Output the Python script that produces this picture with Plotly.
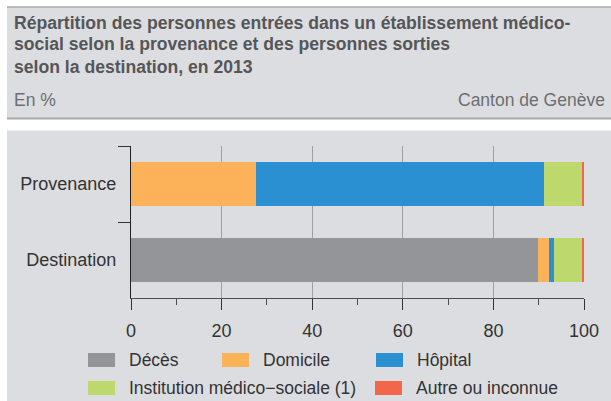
import plotly.graph_objects as go

# ---------------- data ----------------
categories = ["Provenance", "Destination"]
series_names = ["Décès", "Domicile", "Hôpital", "Institution médico−sociale (1)", "Autre ou inconnue"]
deces = [0.0, 89.8]
domicile = [27.6, 2.4]
hopital = [63.6, 1.1]
institution = [8.3, 6.4]
autre = [0.5, 0.3]
x_tick_vals = [0, 20, 40, 60, 80, 100]
x_tick_text = ["0", "20", "40", "60", "80", "100"]

title_lines = [
    "Répartition des personnes entrées dans un établissement médico-",
    "social selon la provenance et des personnes sorties",
    "selon la destination, en 2013",
]
unit_text = "En %"
region_text = "Canton de Genève"

# ---------------- style ----------------
colors = ["#939598", "#fbb259", "#2a90d2", "#bdd86c", "#f26649"]
W, H = 611, 401
L, R, T, B = 131, 584, 146, 298  # plot area in pixels
FONT = "Liberation Sans, Arial, sans-serif"
BG = "#dcdde0"


def px(x):
    return (x - L) / (R - L)


def py(y):
    return (B - y) / (B - T)


fig = go.Figure()
for name, vals, col in zip(series_names, [deces, domicile, hopital, institution, autre], colors):
    fig.add_trace(go.Bar(
        y=categories, x=vals, name=name, orientation="h",
        marker=dict(color=col, line=dict(width=0)),
        showlegend=False, hoverinfo="x+name",
    ))

shapes = [
    # header box
    dict(type="rect", xref="paper", yref="paper", x0=px(7), x1=px(611), y0=py(118), y1=py(7),
         fillcolor=BG, line=dict(width=0), layer="below"),
    dict(type="line", xref="paper", yref="paper", x0=px(7), x1=px(611), y0=py(7), y1=py(7),
         line=dict(color="#a8a9ab", width=1.5), layer="below"),
    dict(type="line", xref="paper", yref="paper", x0=px(7), x1=px(611), y0=py(118.5), y1=py(118.5),
         line=dict(color="#a8a9ab", width=2), layer="below"),
    # chart box
    dict(type="rect", xref="paper", yref="paper", x0=px(7), x1=px(611), y0=py(401), y1=py(130.5),
         fillcolor=BG, line=dict(width=0), layer="below"),
]

annotations = []
for i, line in enumerate(title_lines):
    annotations.append(dict(
        text="<b>" + line + "</b>", xref="paper", yref="paper", x=px(12), y=py(22.5 + 22 * i),
        xanchor="left", yanchor="middle", showarrow=False,
        font=dict(family=FONT, size=17.6, color="#555658"),
    ))
annotations.append(dict(text=unit_text, xref="paper", yref="paper", x=px(12), y=py(100),
                        xanchor="left", yanchor="middle", showarrow=False,
                        font=dict(family=FONT, size=17.5, color="#6d6e70")))
annotations.append(dict(text=region_text, xref="paper", yref="paper", x=px(607), y=py(100),
                        xanchor="right", yanchor="middle", showarrow=False,
                        font=dict(family=FONT, size=17.5, color="#6d6e70")))

# custom legend (3-column grid, item 4 spanning two columns)
legend_pos = [(88, 360), (222, 360), (376, 360), (88, 388), (375, 388)]
for (lx, ly), name, col in zip(legend_pos, series_names, colors):
    shapes.append(dict(type="rect", xref="paper", yref="paper", x0=px(lx), x1=px(lx + 27),
                       y0=py(ly + 7), y1=py(ly - 7), fillcolor=col, line=dict(width=0)))
    annotations.append(dict(text=name, xref="paper", yref="paper", x=px(lx + 39), y=py(ly),
                            xanchor="left", yanchor="middle", showarrow=False,
                            font=dict(family=FONT, size=17.5, color="#333333")))

fig.update_layout(
    width=W, height=H,
    margin=dict(l=L, r=W - R, t=T, b=H - B, pad=0),
    paper_bgcolor="white", plot_bgcolor="rgba(0,0,0,0)",
    barmode="stack", bargap=0.41,
    font=dict(family=FONT, size=18, color="#333333"),
    shapes=shapes, annotations=annotations,
    showlegend=False,
    xaxis=dict(
        range=[0, 100], tickvals=x_tick_vals, ticktext=x_tick_text,
        showgrid=True, gridcolor="#a0a1a3", gridwidth=1,
        showline=True, linecolor="#4d4d4d", linewidth=1,
        ticks="outside", ticklen=11, tickcolor="#333333", tickwidth=1,
        minor=dict(dtick=10, ticks="outside", ticklen=6, tickcolor="#4d4d4d", showgrid=False),
        ticklabelstandoff=5,
        zeroline=False, fixedrange=True,
        tickfont=dict(family=FONT, size=18, color="#333333"),
    ),
    yaxis=dict(
        autorange="reversed", showgrid=False, zeroline=False,
        showline=True, linecolor="#222222", linewidth=1.2,
        ticks="outside", tickson="boundaries", ticklen=12, tickcolor="#333333",
        ticklabelstandoff=10,
        tickfont=dict(family=FONT, size=18, color="#333333"),
        fixedrange=True,
    ),
)

fig.write_html("out.html", config={"displayModeBar": False},
               post_script="document.body.style.margin='0';document.body.style.padding='0';")
